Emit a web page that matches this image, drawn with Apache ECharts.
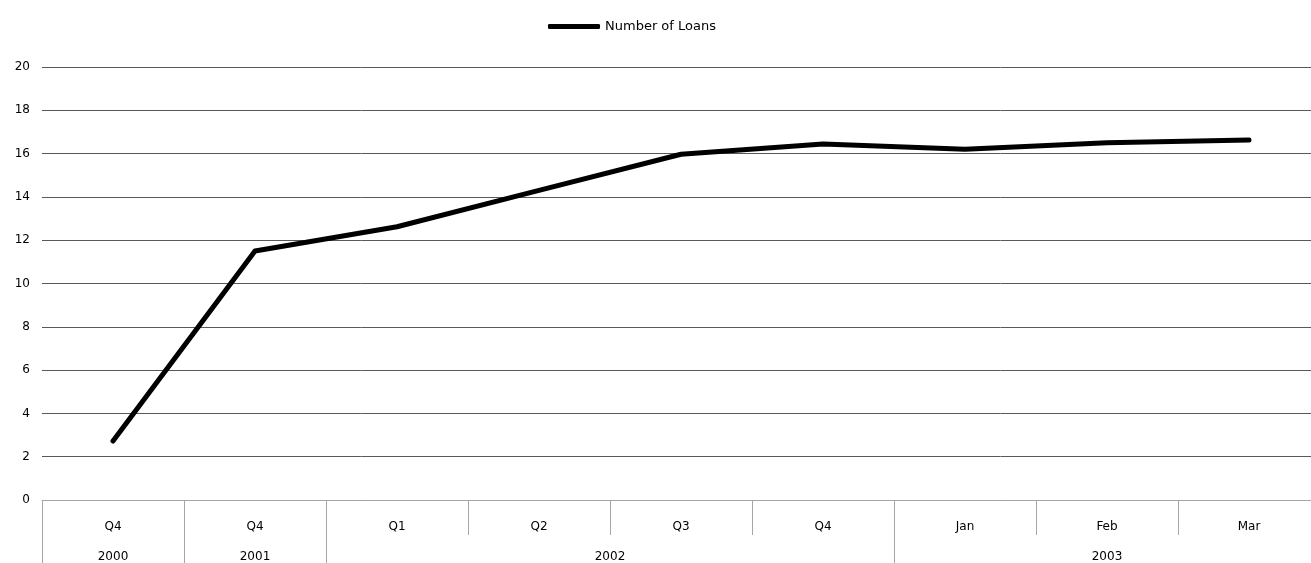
<!DOCTYPE html>
<html>
<head>
<meta charset="utf-8">
<script src="https://cdn.jsdelivr.net/npm/echarts@6/dist/echarts.min.js"></script>
<style>html,body{margin:0;padding:0;background:#fff;overflow:hidden}#c{width:1320px;height:563px}</style>
</head>
<body>
<div id="c"></div>
<script>
var categories = ['Q4', 'Q4', 'Q1', 'Q2', 'Q3', 'Q4', 'Jan', 'Feb', 'Mar'];
var years = ['2000', '2001', '2002', '2003'];
var yearStarts = [0, 1, 2, 6, 9];
var loans = [2.72, 11.5, 12.62, 14.3, 15.97, 16.44, 16.2, 16.5, 16.63];
var yTicks = [0, 2, 4, 6, 8, 10, 12, 14, 16, 18, 20];

var FONT = 'DejaVu Sans';
var yearCenters = [];
for (var i = 0; i < years.length; i++) yearCenters.push((yearStarts[i] + yearStarts[i + 1]) / 2);

var chart = echarts.init(document.getElementById('c'), null, {renderer: 'canvas'});
chart.setOption({
  animation: false,
  backgroundColor: '#fff',
  textStyle: {fontFamily: FONT},
  legend: {
    top: 15,
    left: 543,
    itemWidth: 52,
    itemHeight: 5,
    itemGap: 0,
    icon: 'roundRect',
    itemStyle: {color: '#000'},
    textStyle: {fontFamily: FONT, fontSize: 13, color: '#000'},
    data: ['Number of Loans']
  },
  grid: {left: 42, top: 67, right: 0, height: 433, containLabel: false},
  xAxis: [{
    type: 'category',
    data: categories,
    boundaryGap: true,
    axisLine: {show: true, lineStyle: {color: '#a6a6a6', width: 1}},
    axisTick: {show: true, interval: 0, length: 35, lineStyle: {color: '#a6a6a6', width: 1}},
    axisLabel: {interval: 0, margin: 21, fontFamily: FONT, fontSize: 12, color: '#000'},
    splitLine: {show: false}
  }, {
    type: 'value',
    position: 'bottom',
    min: 0,
    max: 9,
    axisLine: {show: false},
    axisTick: {show: true, customValues: yearStarts, length: 63, lineStyle: {color: '#a6a6a6', width: 1}},
    axisLabel: {
      customValues: yearCenters,
      margin: 51,
      fontFamily: FONT, fontSize: 12, color: '#000',
      formatter: function (v) {
        var idx = yearCenters.indexOf(v);
        return idx >= 0 ? years[idx] : '';
      }
    },
    splitLine: {show: false}
  }],
  yAxis: {
    type: 'value',
    min: yTicks[0],
    max: yTicks[yTicks.length - 1],
    interval: 2,
    axisLine: {show: false},
    axisTick: {show: false},
    axisLabel: {margin: 12, fontFamily: FONT, fontSize: 12, color: '#000'},
    splitLine: {show: true, lineStyle: {color: '#595959', width: 1}}
  },
  series: [{
    name: 'Number of Loans',
    type: 'line',
    xAxisIndex: 0,
    data: loans,
    symbol: 'none',
    lineStyle: {color: '#000', width: 5, cap: 'round', join: 'round'},
    itemStyle: {color: '#000'},
    z: 5
  }]
});
</script>
</body>
</html>
